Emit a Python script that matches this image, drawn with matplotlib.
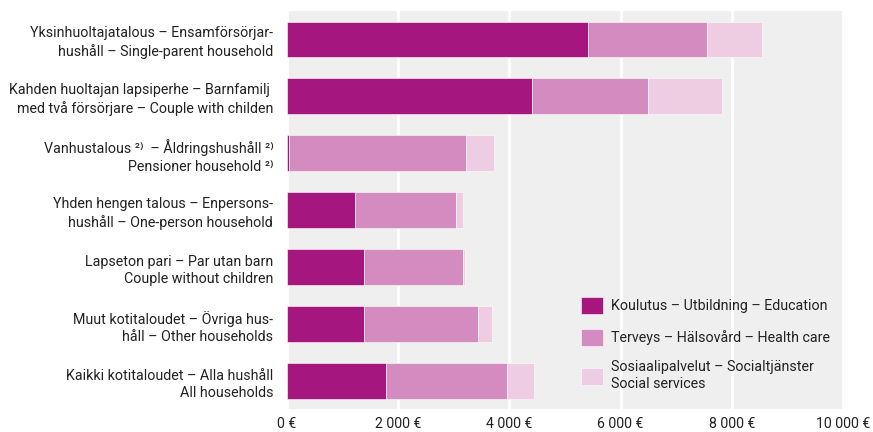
import matplotlib
matplotlib.use('Agg')
import matplotlib.pyplot as plt
import numpy as np

plt.rcParams['font.family'] = ['Roboto', 'DejaVu Sans']

categories = [
    "Yksinhuoltajatalous – Ensamförsörjar-\nhushåll – Single-parent household",
    "Kahden huoltajan lapsiperhe – Barnfamilj \nmed två försörjare – Couple with childen",
    "Vanhustalous ²⁾  – Åldringshushåll ²⁾\nPensioner household ²⁾",
    "Yhden hengen talous – Enpersons-\nhushåll – One-person household",
    "Lapseton pari – Par utan barn\nCouple without children",
    "Muut kotitaloudet – Övriga hus-\nhåll – Other households",
    "Kaikki kotitaloudet – Alla hushåll\nAll households",
]
education = [5420, 4410, 40, 1215, 1390, 1390, 1775]
health = [2130, 2090, 3180, 1815, 1775, 2050, 2185]
social = [1000, 1320, 500, 140, 30, 250, 490]
series_names = [
    "Koulutus – Utbildning – Education",
    "Terveys – Hälsovård – Health care",
    "Sosiaalipalvelut – Socialtjänster\nSocial services",
]
xticks = [0, 2000, 4000, 6000, 8000, 10000]
xtick_labels = ["0 €", "2 000 €", "4 000 €", "6 000 €", "8 000 €", "10 000 €"]

colors = ['#a5177e', '#d48bbf', '#eecde3']

fig = plt.figure(figsize=(8.73, 4.32), dpi=100)
ax = fig.add_axes([0.3288, 0.0521, 0.6369, 0.9225])
ax.set_facecolor('#efefef')

y = np.arange(len(categories))
left = np.zeros(len(categories))
for vals, name, c in zip([education, health, social], series_names, colors):
    ax.barh(y, vals, left=left, height=0.63, color=c, label=name,
            edgecolor='white', linewidth=0.4, zorder=3)
    left += np.array(vals)

ax.set_xlim(0, 10000)
ax.set_ylim(len(categories) - 0.5, -0.5)
ax.set_xticks(xticks)
ax.set_xticklabels(xtick_labels, fontsize=10.2, color='#222222')
ax.set_yticks(y)
ax.set_yticklabels(categories, fontsize=10.3, color='#222222', linespacing=1.3)
ax.tick_params(axis='both', length=0)
ax.tick_params(axis='x', pad=5.5)
ax.tick_params(axis='y', pad=10)
ax.grid(axis='x', color='white', linewidth=2, zorder=1)
for s in ax.spines.values():
    s.set_visible(False)

leg = ax.legend(loc='lower right', bbox_to_anchor=(1.0, 0.015), frameon=False,
                fontsize=10.3, handlelength=1.5, handleheight=1.5,
                labelspacing=1.0, handletextpad=0.6)
for t in leg.get_texts():
    t.set_color('#222222')

fig.savefig('out.png', dpi=100)
